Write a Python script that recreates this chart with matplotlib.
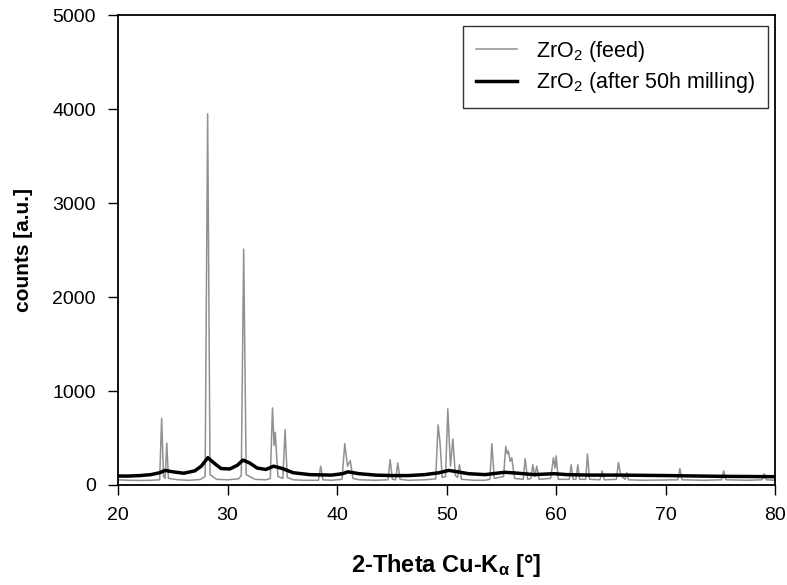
"""XRD pattern of ZrO2 feed powder and after 50 h milling."""

import matplotlib

matplotlib.use("Agg")

import matplotlib.pyplot as plt

plt.rcParams["font.family"] = ["Liberation Sans", "DejaVu Sans"]
plt.rcParams["mathtext.fontset"] = "custom"
plt.rcParams["mathtext.rm"] = "Liberation Sans"
plt.rcParams["mathtext.it"] = "Liberation Sans:italic"
plt.rcParams["mathtext.bf"] = "Liberation Sans:bold"

# feed powder: sharp monoclinic reflections (2-theta, counts)
feed_2theta = [
    20.0, 21.0, 22.0, 23.0, 23.8, 23.98, 24.15, 24.3, 24.45, 24.6,
    25.5, 26.5, 27.5, 27.95, 28.18, 28.4, 29.0, 30.0, 31.0, 31.25,
    31.47, 31.7, 32.5, 33.5, 33.9, 34.1, 34.25, 34.35, 34.6, 35.05,
    35.25, 35.45, 36.0, 37.0, 38.3, 38.5, 38.7, 39.5, 40.45, 40.7,
    40.95, 41.2, 41.45, 42.0, 43.5, 44.65, 44.84, 45.05, 45.35, 45.54,
    45.75, 46.5, 48.0, 49.0, 49.22, 49.4, 49.6, 49.9, 50.11, 50.35,
    50.57, 50.8, 51.0, 51.17, 51.35, 52.5, 53.5, 53.95, 54.13, 54.35,
    55.2, 55.4, 55.55, 55.64, 55.8, 55.95, 56.2, 57.0, 57.17, 57.4,
    57.7, 57.87, 58.05, 58.23, 58.45, 59.5, 59.75, 59.9, 60.0, 60.2,
    61.2, 61.37, 61.55, 61.8, 61.98, 62.15, 62.7, 62.86, 63.05, 64.0,
    64.2, 64.4, 65.5, 65.69, 65.9, 66.3, 66.45, 66.6, 68.0, 71.1,
    71.3, 71.5, 73.5, 75.1, 75.3, 75.5, 77.5, 78.8, 79.0, 79.2,
    80.0,
]
feed_counts = [
    55, 50, 48, 50, 55, 710, 90, 70, 445, 70,
    55, 50, 58, 90, 3950, 110, 60, 55, 65, 100,
    2510, 110, 60, 55, 70, 820, 420, 560, 90, 70,
    590, 80, 55, 50, 50, 200, 55, 50, 60, 440,
    200, 260, 70, 55, 50, 55, 270, 60, 55, 235,
    60, 50, 55, 65, 640, 450, 80, 90, 810, 200,
    490, 100, 80, 215, 60, 50, 50, 60, 440, 70,
    90, 410, 330, 360, 250, 290, 70, 60, 280, 60,
    70, 215, 90, 200, 60, 70, 290, 180, 310, 60,
    60, 215, 60, 60, 215, 60, 60, 330, 60, 55,
    150, 55, 60, 240, 100, 60, 130, 55, 50, 55,
    175, 55, 50, 55, 150, 55, 50, 55, 120, 55,
    50,
]

# after 50 h milling: broad, low humps
milled_2theta = [
    20.0, 21.0, 22.0, 23.0, 23.8, 24.3, 25.0, 26.0, 27.0, 27.6,
    28.2, 28.8, 29.4, 30.2, 30.9, 31.4, 32.0, 32.7, 33.5, 34.2,
    35.0, 36.0, 37.5, 39.5, 40.5, 41.0, 42.0, 43.5, 45.0, 46.5,
    48.0, 49.3, 50.2, 51.0, 52.0, 53.5, 55.3, 56.5, 58.0, 59.8,
    61.0, 63.0, 66.0, 70.0, 75.0, 80.0,
]
milled_counts = [
    95, 95, 100, 110, 130, 155, 140, 125, 150, 200,
    290, 230, 175, 170, 210, 265, 235, 180, 165, 200,
    175, 130, 110, 105, 120, 140, 120, 105, 100, 100,
    110, 130, 155, 140, 120, 110, 135, 125, 110, 120,
    110, 105, 105, 100, 92, 88,
]

fig = plt.figure(figsize=(7.87, 5.85), dpi=100)
ax = fig.add_axes([0.150, 0.171, 0.835, 0.803])

ax.plot(feed_2theta, feed_counts, color="#909090", lw=1.1,
        label="ZrO$_2$ (feed)")
ax.plot(milled_2theta, milled_counts, color="black", lw=2.5,
        label="ZrO$_2$ (after 50h milling)")

ax.set_xlim(20, 80)
ax.set_ylim(0, 5000)
ax.set_xticks(range(20, 81, 10))
ax.set_yticks(range(0, 5001, 1000))
ax.tick_params(direction="out", length=7, width=1.0, pad=9, labelsize=14)
for spine in ax.spines.values():
    spine.set_linewidth(1.3)

ax.set_xlabel("2-Theta Cu-K$_{\\mathbf{α}}$ [°]", fontsize=17,
              fontweight="bold", labelpad=20)
ax.set_ylabel("counts [a.u.]", fontsize=15, fontweight="bold", labelpad=14)

leg = ax.legend(loc="upper right", bbox_to_anchor=(0.989, 0.977),
                borderaxespad=0.0, fontsize=15.5, frameon=True, fancybox=False,
                edgecolor="black", handlelength=1.9, handletextpad=0.9,
                borderpad=0.6, labelspacing=0.3)
leg.get_frame().set_linewidth(1.0)

fig.savefig("out.png", dpi=100, facecolor="white")
